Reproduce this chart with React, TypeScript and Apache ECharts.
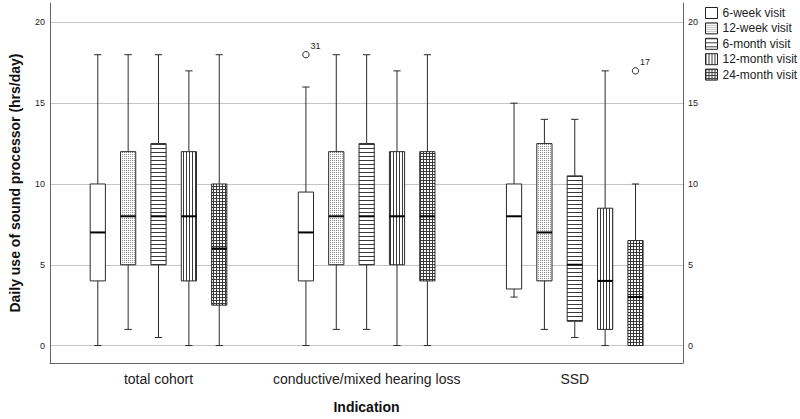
import React, { useEffect, useRef } from "react";
import * as echarts from "echarts";

const categories = ["total cohort", "conductive/mixed hearing loss", "SSD"];
const visits = ["6-week visit", "12-week visit", "6-month visit", "12-month visit", "24-month visit"];
// per category: [min, Q1, median, Q3, max]
const week6 = [[0, 4, 7, 10, 18], [0, 4, 7, 9.5, 16], [3, 3.5, 8, 10, 15]];
const week12 = [[1, 5, 8, 12, 18], [1, 5, 8, 12, 18], [1, 4, 7, 12.5, 14]];
const month6 = [[0.5, 5, 8, 12.5, 18], [1, 5, 8, 12.5, 18], [0.5, 1.5, 5, 10.5, 14]];
const month12 = [[0, 4, 8, 12, 17], [0, 5, 8, 12, 17], [0, 1, 4, 8.5, 17]];
const month24 = [[0, 2.5, 6, 10, 18], [0, 4, 8, 12, 18], [0, 0, 3, 6.5, 10]];
// outliers: [categoryIndex, value, case label]
const outliers6w = [[1, 18, "31"]];
const outliers24m = [[2, 17, "17"]];
const yTicks = [0, 5, 10, 15, 20];
const xTicks = [0, 1, 2];

const seriesValues = [week6, week12, month6, month12, month24];
const seriesOutliers: any[][] = [outliers6w, [], [], [], outliers24m];
const patternKinds = ["none", "dots", "hlines", "vlines", "grid"];

const FONT = "'Liberation Sans', Arial, Helvetica, sans-serif";

function makePattern(kind: string): any {
  if (kind === "none") return "#ffffff";
  const size = kind === "dots" ? 2 : kind === "hlines" ? 4 : 3;
  const c = document.createElement("canvas");
  c.width = size;
  c.height = size;
  const ctx = c.getContext("2d")!;
  ctx.fillStyle = "#ffffff";
  ctx.fillRect(0, 0, size, size);
  ctx.fillStyle = "#3a3a3a";
  if (kind === "dots") {
    ctx.fillStyle = "#8a8a8a";
    ctx.fillRect(0, 0, 1, 1);
  } else if (kind === "hlines") {
    ctx.fillRect(0, 0, size, 1);
  } else if (kind === "vlines") {
    ctx.fillRect(0, 0, 1, size);
  } else if (kind === "grid") {
    ctx.fillRect(0, 0, size, 1);
    ctx.fillRect(0, 0, 1, size);
  }
  return { image: c, repeat: "repeat", imageWidth: size, imageHeight: size };
}

export default function App() {
  const ref = useRef<HTMLDivElement>(null);
  useEffect(() => {
    if (!ref.current) return;
    const chart = echarts.init(ref.current, undefined, { renderer: "svg" });
    const fills = patternKinds.map(makePattern);

    const series: any[] = seriesValues.map((vals, s) => ({
      type: "custom",
      name: visits[s],
      itemStyle: { color: fills[s], borderColor: "#222", borderWidth: 1 },
      encode: { x: 0, y: [1, 2, 3, 4, 5] },
      data: vals.map((v, i) => [i, ...v]),
      clip: false,
      renderItem: (params: any, api: any) => {
        const ci = api.value(0);
        const unit = api.size([1, 0])[0];
        const cx = api.coord([ci, 0])[0] + (s - 2) * 0.1459 * unit;
        const bw = 0.073 * unit;
        const cap = 0.035 * unit;
        const yMin = api.coord([ci, api.value(1)])[1];
        const yQ1 = api.coord([ci, api.value(2)])[1];
        const yMed = api.coord([ci, api.value(3)])[1];
        const yQ3 = api.coord([ci, api.value(4)])[1];
        const yMax = api.coord([ci, api.value(5)])[1];
        const stroke = "#2a2a2a";
        const children: any[] = [
          { type: "line", shape: { x1: cx, y1: yMin, x2: cx, y2: yQ1 }, style: { stroke, lineWidth: 1 } },
          { type: "line", shape: { x1: cx, y1: yQ3, x2: cx, y2: yMax }, style: { stroke, lineWidth: 1 } },
          { type: "line", shape: { x1: cx - cap / 2, y1: yMin, x2: cx + cap / 2, y2: yMin }, style: { stroke, lineWidth: 1 } },
          { type: "line", shape: { x1: cx - cap / 2, y1: yMax, x2: cx + cap / 2, y2: yMax }, style: { stroke, lineWidth: 1 } },
          {
            type: "rect",
            shape: { x: cx - bw / 2, y: yQ3, width: bw, height: yQ1 - yQ3 },
            style: { fill: fills[s], stroke, lineWidth: 1 },
          },
          { type: "line", shape: { x1: cx - bw / 2, y1: yMed, x2: cx + bw / 2, y2: yMed }, style: { stroke: "#000", lineWidth: 2 } },
        ];
        seriesOutliers[s]
          .filter((o) => o[0] === ci)
          .forEach((o) => {
            const oy = api.coord([ci, o[1]])[1];
            children.push({
              type: "circle",
              shape: { cx, cy: oy, r: 3.2 },
              style: { fill: "#fff", stroke, lineWidth: 1 },
            });
            children.push({
              type: "text",
              style: {
                text: o[2],
                x: cx + 4.5,
                y: oy - 9,
                fill: "#222",
                fontSize: 9,
                fontFamily: FONT,
                align: "left",
                verticalAlign: "middle",
              },
            });
          });
        return { type: "group", children };
      },
    }));

    const yAxisBase = {
      type: "value",
      min: -1.08,
      max: 21.2,
      axisLine: { show: true, onZero: false, lineStyle: { color: "#666", width: 1 } },
      axisTick: { show: false, customValues: yTicks },
      axisLabel: { customValues: yTicks, fontSize: 9, color: "#222", margin: 5, fontFamily: FONT },
    };

    chart.setOption({
      animation: false,
      backgroundColor: "#ffffff",
      grid: { left: 36.7, right: 117, top: 3, bottom: 48.5 },
      legend: {
        orient: "vertical",
        left: 700,
        top: 2,
        itemWidth: 12,
        itemHeight: 11,
        itemGap: 3.4,
        icon: "rect",
        textStyle: { fontSize: 12, color: "#222", fontFamily: FONT },
        itemStyle: { borderColor: "#222", borderWidth: 1 },
        data: visits.map((v, i) => ({ name: v, itemStyle: { color: fills[i], borderColor: "#222", borderWidth: 1 } })),
      },
      xAxis: {
        type: "value",
        min: -0.5214,
        max: 2.52,
        axisLine: { show: true, onZero: false, lineStyle: { color: "#666", width: 1 } },
        axisTick: { show: false, customValues: xTicks },
        splitLine: { show: false },
        axisLabel: {
          customValues: xTicks,
          formatter: (v: number) => categories[Math.round(v)] ?? "",
          fontSize: 14,
          color: "#222",
          margin: 9,
          fontFamily: FONT,
        },
        name: "Indication",
        nameLocation: "middle",
        nameGap: 37,
        nameTextStyle: { fontSize: 14, fontWeight: "bold", color: "#111", fontFamily: FONT },
      },
      yAxis: [
        {
          ...yAxisBase,
          position: "left",
          splitLine: { show: true, lineStyle: { color: "#c4c4c4", width: 1 } },
          name: "Daily use of sound processor (hrs/day)",
          nameLocation: "middle",
          nameGap: 28,
          nameTextStyle: { fontSize: 14, fontWeight: "bold", color: "#111", fontFamily: FONT },
        },
        {
          ...yAxisBase,
          position: "right",
          splitLine: { show: false },
        },
      ],
      series,
    });
    return () => chart.dispose();
  }, []);
  return <div ref={ref} style={{ position: "fixed", left: 0, top: 0, width: 800, height: 419 }} />;
}
